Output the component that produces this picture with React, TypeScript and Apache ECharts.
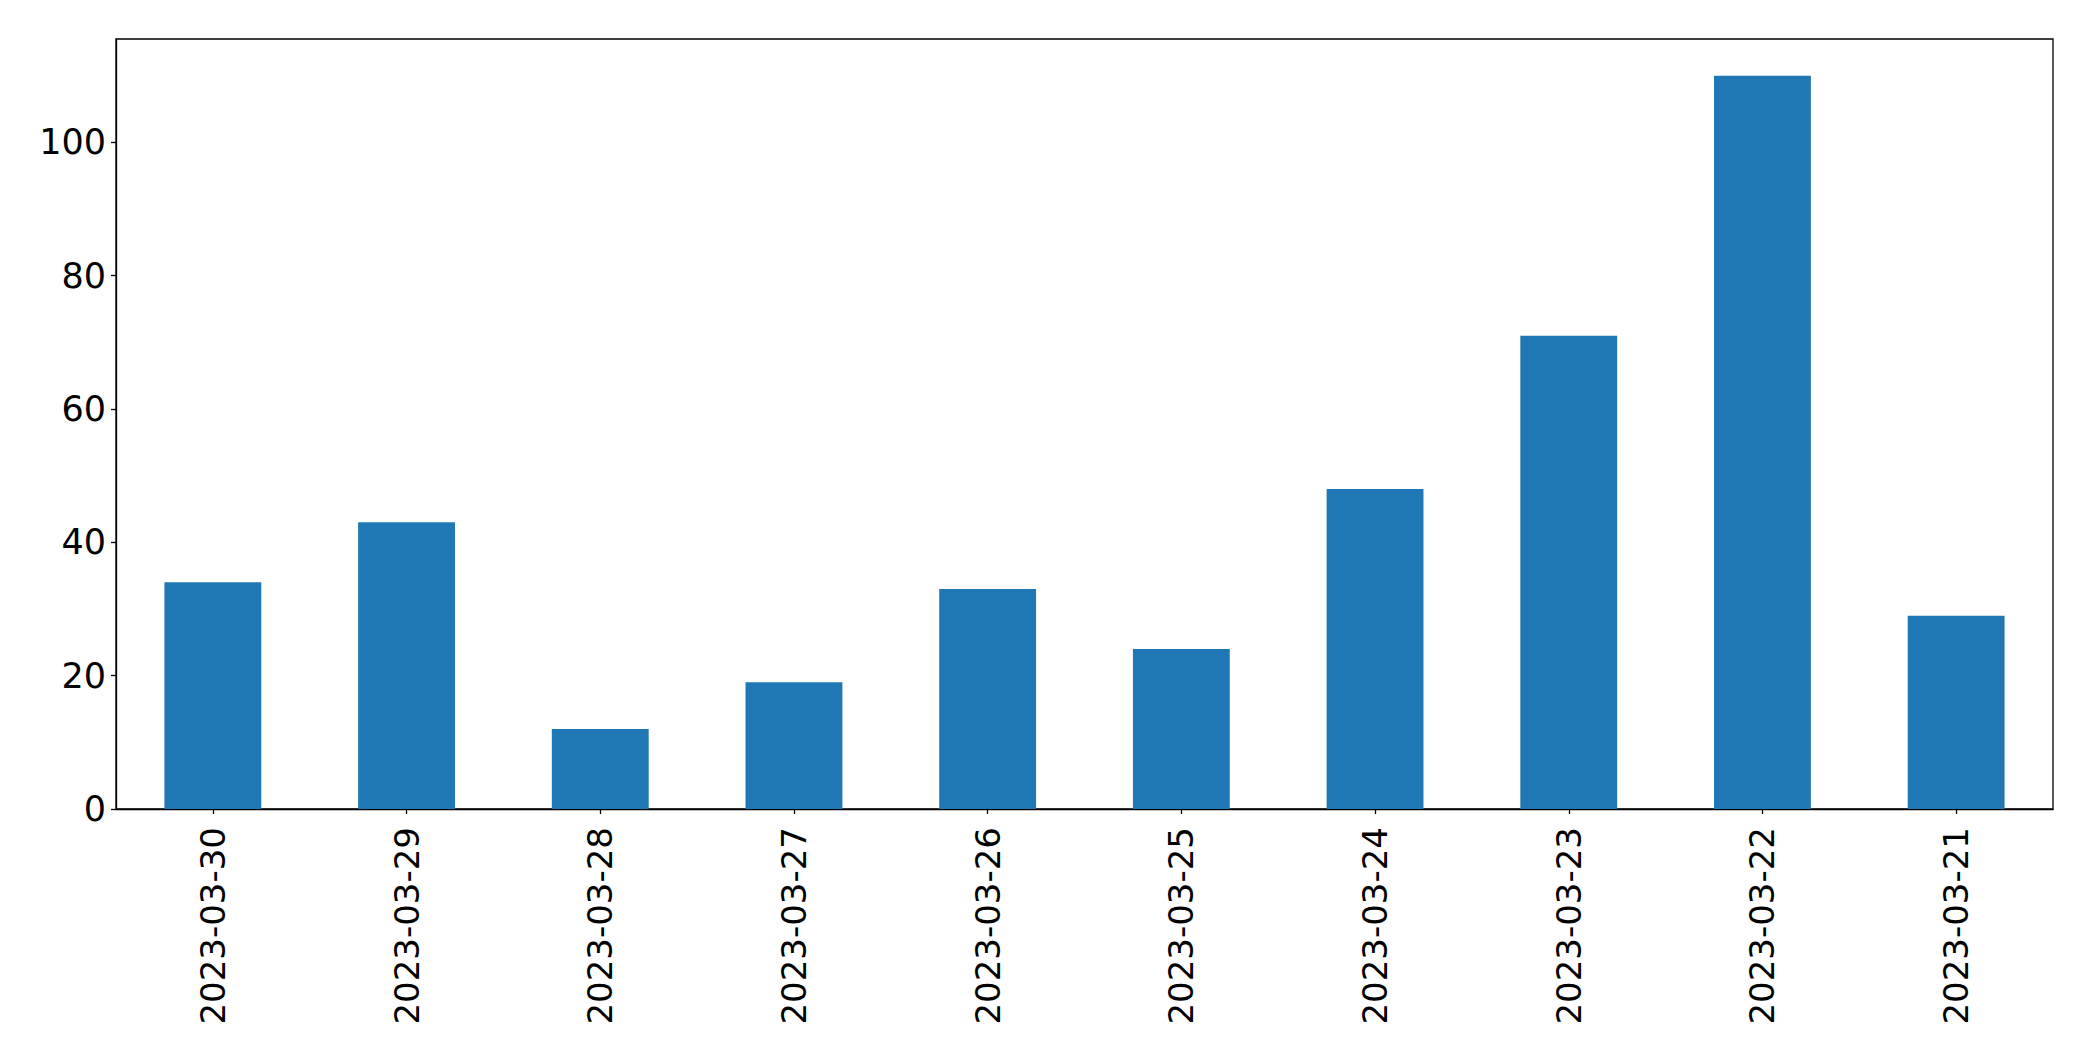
import React, { useEffect, useRef } from "react";
import * as echarts from "echarts";

const categories: string[] = [
  "2023-03-30",
  "2023-03-29",
  "2023-03-28",
  "2023-03-27",
  "2023-03-26",
  "2023-03-25",
  "2023-03-24",
  "2023-03-23",
  "2023-03-22",
  "2023-03-21",
];
const values: number[] = [34, 43, 12, 19, 33, 24, 48, 71, 110, 29];
const yMax = 115.5;
const yInterval = 20;

const FONT = "DejaVu Sans";

export default function App() {
  const ref = useRef<HTMLDivElement>(null);
  useEffect(() => {
    document.body.style.margin = "0";
    if (!ref.current) return;
    const chart = echarts.init(ref.current, undefined, { renderer: "svg" });
    chart.setOption({
      animation: false,
      backgroundColor: "#ffffff",
      grid: {
        left: 116,
        right: 40,
        top: 39,
        bottom: 252,
        show: true,
        borderColor: "#000000",
        borderWidth: 1.3,
        backgroundColor: "transparent",
      },
      xAxis: {
        type: "category",
        data: categories,
        axisLine: { show: true, lineStyle: { color: "#000", width: 1.3 } },
        axisTick: {
          show: true,
          alignWithLabel: true,
          length: 5,
          lineStyle: { color: "#000", width: 1.3 },
        },
        axisLabel: {
          rotate: 90,
          margin: 18,
          fontSize: 34,
          fontFamily: FONT,
          color: "#000",
        },
        splitLine: { show: false },
      },
      yAxis: {
        type: "value",
        min: 0,
        max: yMax,
        interval: yInterval,
        axisLine: { show: true, lineStyle: { color: "#000", width: 1.3 } },
        axisTick: { show: true, length: 5, lineStyle: { color: "#000", width: 1.3 } },
        axisLabel: {
          margin: 10,
          fontSize: 35,
          fontFamily: FONT,
          color: "#000",
          showMaxLabel: false,
        },
        splitLine: { show: false },
      },
      series: [
        {
          type: "bar",
          data: values,
          barWidth: "50%",
          itemStyle: { color: "#1f77b4" },
        },
      ],
    });
    return () => chart.dispose();
  }, []);
  return <div ref={ref} style={{ width: 2093, height: 1061 }} />;
}
